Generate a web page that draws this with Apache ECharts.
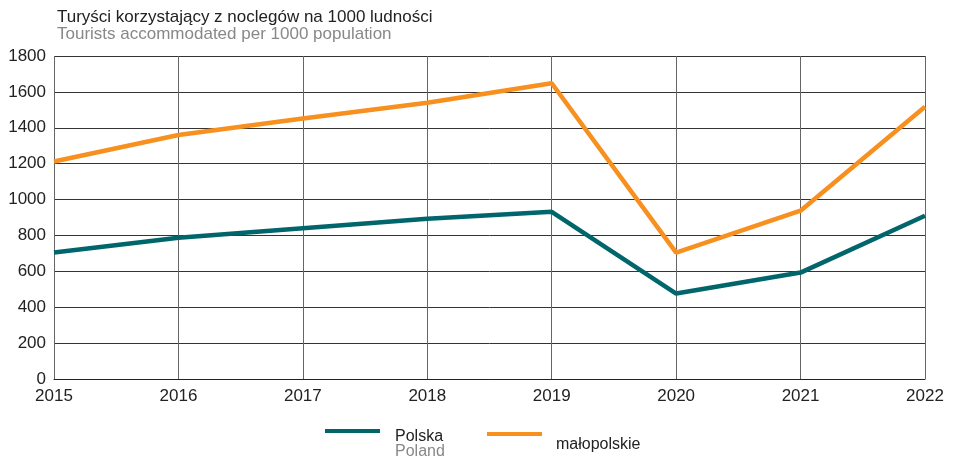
<!DOCTYPE html>
<html>
<head>
<meta charset="utf-8">
<script src="https://cdn.jsdelivr.net/npm/echarts@6/dist/echarts.min.js"></script>
<style>
  html, body { margin: 0; padding: 0; background: #fff; }
  #chart { width: 953px; height: 460px; }
</style>
</head>
<body>
<div id="chart"></div>
<script>
const years = ['2015', '2016', '2017', '2018', '2019', '2020', '2021', '2022']
const polska = [705, 787, 840, 893, 932, 476, 593, 910]
const malopolskie = [1212, 1360, 1452, 1540, 1648, 704, 938, 1517]

const font = "'Liberation Sans', Arial, sans-serif"
const teal = '#00666b'
const orange = '#f7901e'

const chart = echarts.init(document.getElementById('chart'))

chart.setOption({
  animation: false,
  textStyle: { fontFamily: font },
  grid: { left: 54, right: 28, top: 56, bottom: 81 },
  xAxis: {
    type: 'category',
    data: years,
    boundaryGap: false,
    axisLine: { lineStyle: { color: '#222', width: 1 } },
    axisTick: { show: false },
    axisLabel: { color: '#222', fontSize: 17, margin: 9 },
    splitLine: { show: true, lineStyle: { color: '#666', width: 1 } }
  },
  yAxis: {
    type: 'value',
    min: 0,
    max: 1800,
    interval: 200,
    axisLine: { show: false },
    axisTick: { show: false },
    axisLabel: { color: '#222', fontSize: 17, margin: 8, formatter: v => String(v) },
    splitLine: { lineStyle: { color: '#333', width: 1 } }
  },
  series: [
    {
      name: 'Polska',
      type: 'line',
      data: polska,
      symbol: 'none',
      lineStyle: { color: teal, width: 4.5 }
    },
    {
      name: 'małopolskie',
      type: 'line',
      data: malopolskie,
      symbol: 'none',
      lineStyle: { color: orange, width: 4.5 }
    }
  ],
  graphic: [
    // tytuł
    { type: 'text', left: 57, top: 9, style: { text: 'Turyści korzystający z noclegów na 1000 ludności', fill: '#222', font: '17px ' + font } },
    { type: 'text', left: 57, top: 26, style: { text: 'Tourists accommodated per 1000 population', fill: '#888', font: '17px ' + font } },
    // legenda
    { type: 'rect', left: 325, top: 429, shape: { width: 55, height: 4 }, style: { fill: teal } },
    { type: 'text', left: 395, top: 429, style: { text: 'Polska', fill: '#222', font: '16px ' + font } },
    { type: 'text', left: 395, top: 444, style: { text: 'Poland', fill: '#888', font: '16px ' + font } },
    { type: 'rect', left: 487, top: 432, shape: { width: 55, height: 4 }, style: { fill: orange } },
    { type: 'text', left: 556, top: 437, style: { text: 'małopolskie', fill: '#222', font: '16px ' + font } }
  ]
})
</script>
</body>
</html>
